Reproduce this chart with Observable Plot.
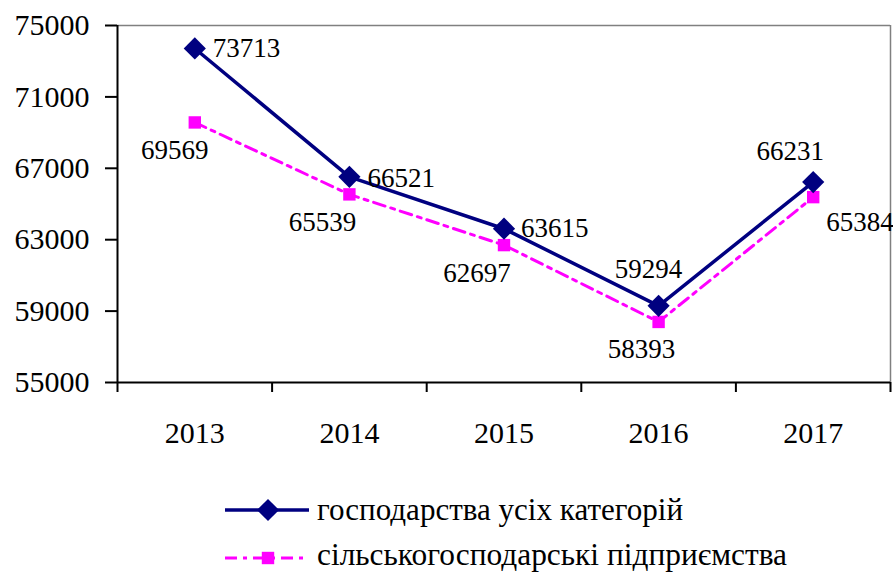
<!DOCTYPE html>
<html>
<head>
<meta charset="utf-8">
<script src="https://cdn.jsdelivr.net/npm/d3@7"></script>
<script src="https://cdn.jsdelivr.net/npm/@observablehq/plot@0.6"></script>
<style>
  html, body { margin: 0; padding: 0; background: #fff; }
  body { width: 893px; height: 572px; overflow: hidden; font-family: "Liberation Serif", "Times New Roman", serif; }
  svg, svg text { font-family: "Liberation Serif", "Times New Roman", serif !important; }
  #legend svg { display: block; }
</style>
</head>
<body>
<div id="chart"></div>
<div id="legend"></div>
<script>
const years = ["2013", "2014", "2015", "2016", "2017"];
const allCategories = [73713, 66521, 63615, 59294, 66231];
const agriEnterprises = [69569, 65539, 62697, 58393, 65384];
const yTicks = [55000, 59000, 63000, 67000, 71000, 75000];
const seriesNames = ["господарства усіх категорій", "сільськогосподарські підприємства"];

const navy = "#000080";
const magenta = "#FF00FF";
const dashDot = "12,6,4,6";
const serif = "Liberation Serif, Times New Roman, serif";

const dataA = years.map((y, i) => ({i, year: y, value: allCategories[i]}));
const dataB = years.map((y, i) => ({i, year: y, value: agriEnterprises[i]}));
const boundaries = d3.range(years.length + 1).map(k => k - 0.5);

// label placement per point: [dx, dy, anchor]
const placeA = [[18, 0, "start"], [18, 2, "start"], [17, 0, "start"], [-10, -36, "middle"], [-23, -31, "middle"]];
const placeB = [[-20, 28, "middle"], [-27, 28, "middle"], [-27, 28, "middle"], [-17, 27, "middle"], [13, 25, "start"]];

function labels(data, place) {
  return data.map((d, k) => Plot.text([d], {
    x: "i", y: "value", text: dd => String(dd.value),
    dx: place[k][0], dy: place[k][1], textAnchor: place[k][2],
    fontSize: 27, fontFamily: serif, fill: "#000"
  }));
}

const chart = Plot.plot({
  width: 893,
  height: 460,
  marginLeft: 117,
  marginRight: 3,
  marginTop: 25,
  marginBottom: 78,
  style: {fontFamily: serif, fontSize: "30px", color: "#000", background: "#fff"},
  x: {type: "linear", domain: [-0.5, years.length - 0.5], label: null},
  y: {domain: [55000, 75000], label: null},
  marks: [
    Plot.ruleY([75000], {stroke: "#808080", strokeWidth: 1.5}),
    Plot.ruleX([years.length - 0.5], {stroke: "#808080", strokeWidth: 1.5}),
    Plot.ruleY([55000], {stroke: "#000", strokeWidth: 2}),
    Plot.ruleX([-0.5], {stroke: "#000", strokeWidth: 2}),
    Plot.axisY({ticks: yTicks, tickSize: 12, tickPadding: 16, tickFormat: d => String(d), fontSize: 30, fontFamily: serif, strokeWidth: 2, label: null}),
    Plot.axisX({ticks: boundaries, tickSize: 10, tickFormat: () => "", strokeWidth: 2, label: null}),
    Plot.axisX({ticks: d3.range(years.length), tickSize: 0, tickPadding: 39, tickFormat: i => years[i], fontSize: 30, fontFamily: serif, label: null}),
    Plot.line(dataB, {x: "i", y: "value", stroke: magenta, strokeWidth: 3, strokeDasharray: dashDot}),
    Plot.dot(dataB, {x: "i", y: "value", symbol: "square", r: 7, fill: magenta, stroke: "none"}),
    Plot.line(dataA, {x: "i", y: "value", stroke: navy, strokeWidth: 3.5}),
    Plot.dot(dataA, {x: "i", y: "value", symbol: "diamond2", r: 10, fill: navy, stroke: "none"}),
    ...labels(dataA, placeA),
    ...labels(dataB, placeB)
  ]
});
document.getElementById("chart").appendChild(chart);

// legend (below the chart SVG)
const ns = "http://www.w3.org/2000/svg";
const leg = document.createElementNS(ns, "svg");
leg.setAttribute("width", 893); leg.setAttribute("height", 112);
const rows = [
  {color: navy, dash: null, sym: d3.symbolDiamond2, size: Math.PI * 100, width: 3.5, cy: 50, base: 60, textLen: 366},
  {color: magenta, dash: dashDot, sym: d3.symbolSquare, size: Math.PI * 49, width: 3, cy: 98, base: 105, textLen: 470}
];
rows.forEach((r, k) => {
  const line = document.createElementNS(ns, "line");
  line.setAttribute("x1", 225); line.setAttribute("x2", 309);
  line.setAttribute("y1", r.cy); line.setAttribute("y2", r.cy);
  line.setAttribute("stroke", r.color);
  line.setAttribute("stroke-width", r.width);
  if (r.dash) line.setAttribute("stroke-dasharray", r.dash);
  leg.appendChild(line);
  const p = document.createElementNS(ns, "path");
  p.setAttribute("transform", `translate(268,${r.cy})`);
  p.setAttribute("d", d3.symbol(r.sym, r.size)());
  p.setAttribute("fill", r.color);
  leg.appendChild(p);
  const t = document.createElementNS(ns, "text");
  t.setAttribute("x", 317);
  t.setAttribute("y", r.base);
  t.setAttribute("font-size", 31);
  t.setAttribute("fill", "#000");
  t.setAttribute("textLength", r.textLen);
  t.setAttribute("lengthAdjust", "spacingAndGlyphs");
  t.textContent = seriesNames[k];
  leg.appendChild(t);
});
document.getElementById("legend").appendChild(leg);
</script>
</body>
</html>
